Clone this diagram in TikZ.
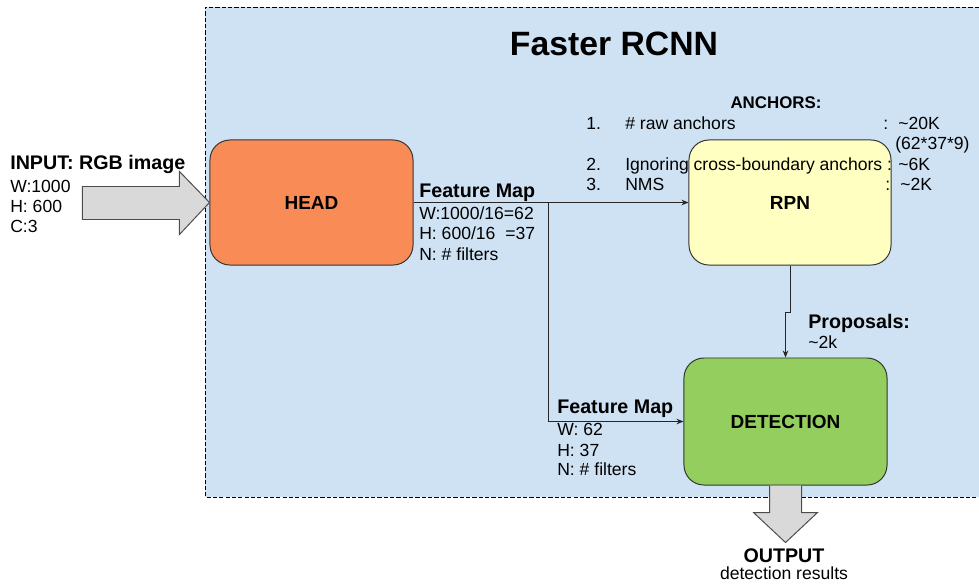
\documentclass[tikz,border=0pt]{standalone}
\usepackage{fontspec}
\setmainfont{Liberation Sans}
\usetikzlibrary{arrows.meta}

\definecolor{bgblue}{RGB}{207,226,243}
\definecolor{headorange}{RGB}{249,140,86}
\definecolor{rpnyellow}{RGB}{255,255,194}
\definecolor{detgreen}{RGB}{147,206,94}

\begin{document}
\begin{tikzpicture}[x=0.025cm,y=-0.025cm,>={Stealth[length=5pt,width=4pt]}]
  \tikzstyle{block}=[draw=black!80,line width=0.7pt,rounded corners=0.5cm,minimum width=5.075cm,minimum height=3.125cm,font=\bfseries\fontsize{13.5}{16}\selectfont]
  \tikzstyle{info}=[anchor=base west,inner sep=0pt,font=\fontsize{12.5}{15}\selectfont]
  \tikzstyle{headline}=[anchor=base west,inner sep=0pt,font=\bfseries\fontsize{14}{17}\selectfont]
  \tikzstyle{bigarrow}=[draw=black!70,fill=black!15,line width=0.7pt]
  \tikzstyle{link}=[->,line width=0.6pt,black!85]

  \useasboundingbox (0,0) rectangle (979,587);

  % dashed frame
  \fill[bgblue] (205,7) rectangle (979,497);
  \draw[dash pattern=on 3pt off 1.5pt,line width=0.7pt] (979,7) -- (205,7) -- (205,497) -- (979,497);
  \node[font=\bfseries\fontsize{24}{28}\selectfont,anchor=base,inner sep=0pt] (F-title) at (614,55) {Faster RCNN};

  % blocks
  \node[block,fill=headorange] (F-head) at (311.5,202.5) {HEAD};
  \node[block,fill=rpnyellow,minimum width=5.05cm] (F-rpn) at (790,202.5) {RPN};
  \node[block,fill=detgreen,minimum width=5.075cm,minimum height=3.175cm] (F-det) at (785.5,421.5) {DETECTION};

  % input / output arrows
  \draw[bigarrow] (F-head.west) -- ++(-30,-31) -- ++(0,15) -- ++(-97,0) -- ++(0,33) -- ++(97,0) -- ++(0,15) -- cycle;
  \draw[bigarrow] (F-det.south) ++(-16,0) -- ++(0,27) -- ++(-16,0) -- ++(32,30) -- ++(32,-30) -- ++(-16,0) -- ++(0,-27);

  % connectors
  \coordinate (F-split) at (548,202.5);
  \coordinate (F-jog) at (790,312);
  \draw[link] (F-head.east) -- (F-rpn.west);
  \draw[link] (F-split) |- (F-det.west);
  \draw[link] (F-rpn.south) -- (F-jog) -- (F-jog -| F-det.north) -- (F-det.north);

  % input
  \node[headline] (in-title) at (10,169) {INPUT: RGB image};
  \node[info] (in-w) at (10,192) {W:1000};
  \node[info] (in-h) at (10,212) {H: 600};
  \node[info] (in-c) at (10,232) {C:3};

  % feature map to RPN
  \node[headline] (fm1-title) at (419,197) {Feature Map};
  \node[info] (fm1-w) at (419,219) {W:1000/16=62};
  \node[info] (fm1-h) at (419,239.5) {H: 600/16\ \ =37};
  \node[info] (fm1-n) at (419,260) {N: \# filters};

  % anchors
  \node[font=\bfseries\fontsize{12}{14}\selectfont,anchor=base,inner sep=0pt] (an-title) at (776,108) {ANCHORS:};
  \node[info] (an-1) at (586,129) {1.};
  \node[info] (an-1t) at (625,129) {\# raw anchors};
  \node[info] (an-1c) at (883,129) {:};
  \node[info] (an-1v) at (898,129) {\textasciitilde20K};
  \node[info] (an-1x) at (895,149) {(62*37*9)};
  \node[info] (an-2) at (586,170) {2.};
  \node[info] (an-2t) at (625,170) {Ignoring cross-boundary anchors :};
  \node[info] (an-2v) at (898,170) {\textasciitilde6K};
  \node[info] (an-3) at (586,190) {3.};
  \node[info] (an-3t) at (625,190) {NMS};
  \node[info] (an-3c) at (885,190) {:};
  \node[info] (an-3v) at (900,190) {\textasciitilde2K};

  % proposals
  \node[headline] (pr-title) at (808,328) {Proposals:};
  \node[info] (pr-n) at (808,348) {\textasciitilde2k};

  % feature map to detection
  \node[headline] (fm2-title) at (557,413) {Feature Map};
  \node[info] (fm2-w) at (557,435) {W: 62};
  \node[info] (fm2-h) at (557,456) {H: 37};
  \node[info] (fm2-n) at (557,475) {N: \# filters};

  % output
  \node[headline,anchor=base] (out-title) at (784,562) {OUTPUT};
  \node[info,anchor=base] (out-text) at (784,579) {detection results};
\end{tikzpicture}
\end{document}
